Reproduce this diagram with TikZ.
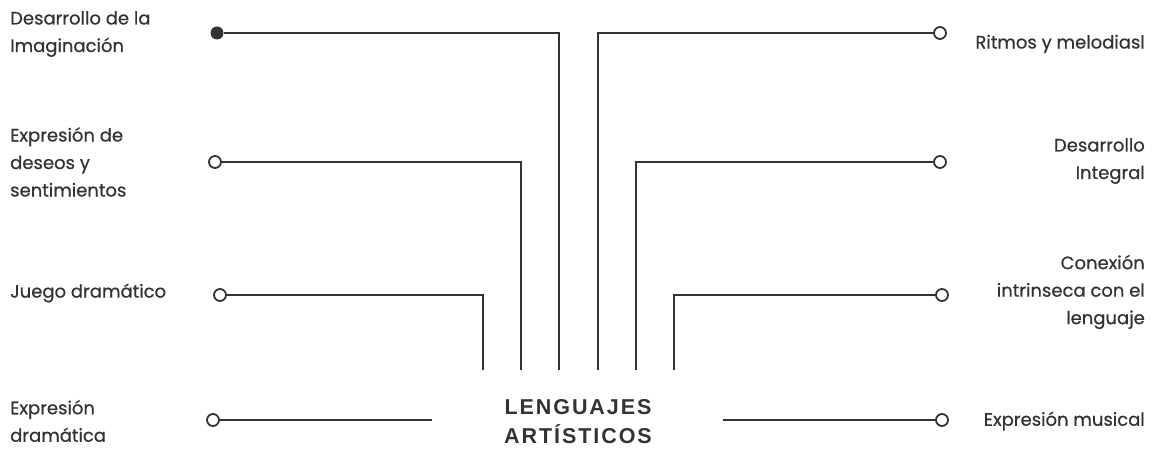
\documentclass[tikz,border=0pt]{standalone}
\usepackage{fontspec}
\setmainfont{Poppins}[FakeBold=0.6]
\newfontfamily\titlefont[LetterSpace=9]{Liberation Sans}
\usetikzlibrary{positioning}
\definecolor{ink}{HTML}{333333}

\begin{document}
\begin{tikzpicture}[
  x=1pt, y=-1pt,
  wire/.style={draw=ink, line width=2pt},
  dot/.style={circle, draw=ink, line width=1.8pt, fill=white, minimum size=12pt, inner sep=0pt},
  fulldot/.style={circle, fill=ink, minimum size=13pt, inner sep=0pt},
  lbl/.style={font=\fontsize{18}{27.5}\selectfont, text=ink, inner sep=0pt},
  title/.style={font=\titlefont\bfseries\fontsize{21.5}{29}\selectfont, text=ink, align=center}
]
\useasboundingbox (0,0) rectangle (1152,449);

\node[title] (lang) at (578,422) {LENGUAJES\\ARTÍSTICOS};

% left side
\node[fulldot] (l1) at (217,33) {};
\node[dot] (l2) at (215,162) {};
\node[dot] (l3) at (220,295) {};
\node[dot] (l4) at (213,420) {};

\node[lbl, anchor=west, align=left] (t1) at (10,34) {Desarrollo de la\\Imaginación};
\node[lbl, anchor=west, align=left] (t2) at (10,162) {Expresión de\\deseos y\\sentimientos};
\node[lbl, anchor=west, align=left] (t3) at (10,293) {Juego dramático};
\node[lbl, anchor=west, align=left] (t4) at (10,421) {Expresión\\dramática};

% right side
\node[dot] (r1) at (940,33) {};
\node[dot] (r2) at (940,162) {};
\node[dot] (r3) at (942,295) {};
\node[dot] (r4) at (942,420) {};

\node[lbl, anchor=east, align=right] (s1) at (1145,44) {Ritmos y melodiasl};
\node[lbl, anchor=east, align=right] (s2) at (1145,161) {Desarrollo\\Integral};
\node[lbl, anchor=east, align=right] (s3) at (1145,292) {Conexión\\intrinseca con el\\lenguaje};
\node[lbl, anchor=east, align=right] (s4) at (1145,421) {Expresión musical};

% line ends above the title
\coordinate (v1) at (559,370);
\coordinate (v2) at (521,370);
\coordinate (v3) at (483,370);
\coordinate (w1) at (598,370);
\coordinate (w2) at (636,370);
\coordinate (w3) at (674,370);
\coordinate (v4) at (432,420);
\coordinate (w4) at (723,420);

\draw[wire] (l1) -| (v1);
\draw[wire] (l2) -| (v2);
\draw[wire] (l3) -| (v3);
\draw[wire] (l4) -- (v4);
\draw[wire] (r1) -| (w1);
\draw[wire] (r2) -| (w2);
\draw[wire] (r3) -| (w3);
\draw[wire] (r4) -- (w4);
\end{tikzpicture}
\end{document}
